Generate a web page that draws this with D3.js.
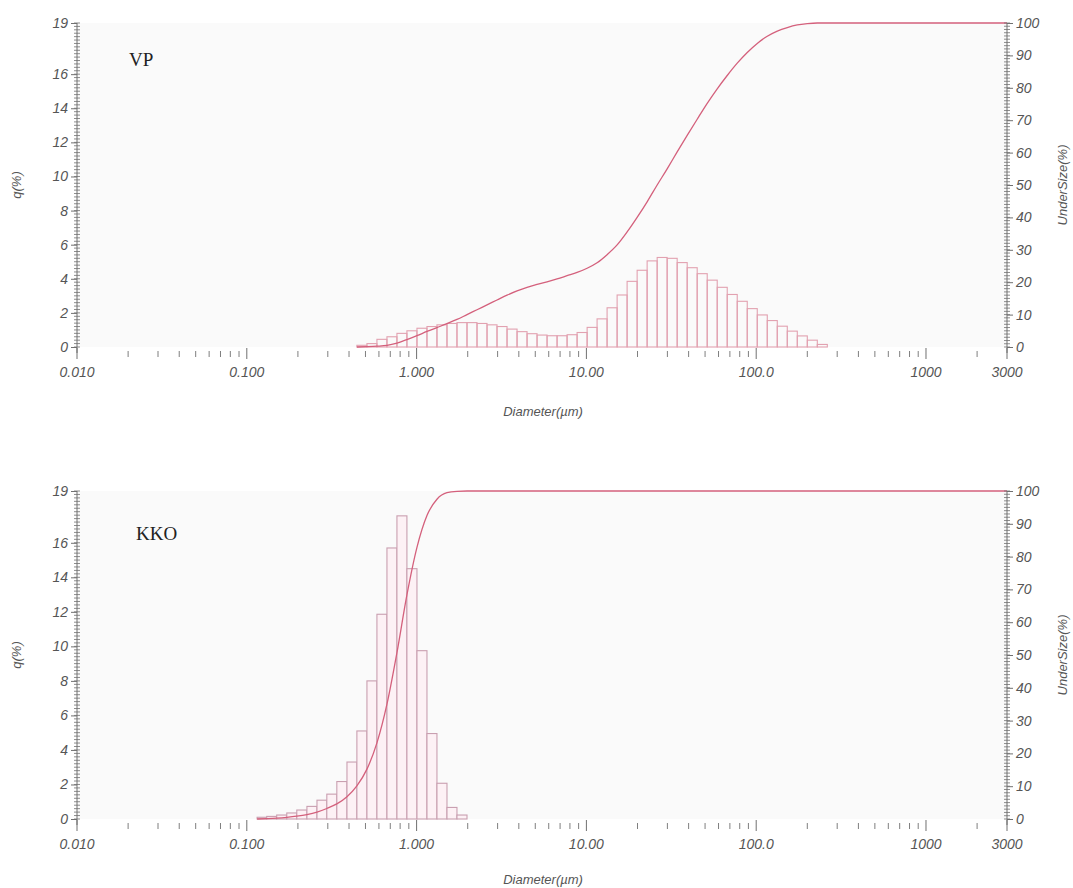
<!DOCTYPE html>
<html>
<head>
<meta charset="utf-8">
<script src="https://cdn.jsdelivr.net/npm/d3@7"></script>
<style>
  body { margin: 0; background: #ffffff; }
</style>
</head>
<body>
<svg id="chart" width="1073" height="888"></svg>
<script>
// Laser-diffraction channel diameters (µm), 93 channels from 0.011 to 3000
const channelDiameters = [
  0.011, 0.013, 0.015, 0.017, 0.020, 0.023, 0.026, 0.030, 0.034, 0.039,
  0.044, 0.051, 0.058, 0.067, 0.076, 0.087, 0.100, 0.115, 0.131, 0.150,
  0.172, 0.197, 0.226, 0.259, 0.296, 0.339, 0.389, 0.445, 0.510, 0.584,
  0.669, 0.766, 0.877, 1.005, 1.151, 1.318, 1.510, 1.729, 1.981, 2.269,
  2.599, 2.976, 3.409, 3.905, 4.472, 5.122, 5.867, 6.720, 7.697, 8.816,
  10.10, 11.56, 13.24, 15.17, 17.37, 19.90, 22.79, 26.11, 29.90, 34.25,
  39.23, 44.93, 51.47, 58.95, 67.52, 77.33, 88.58, 101.46, 116.21, 133.10,
  152.45, 174.62, 200.00, 229.08, 262.38, 300.52, 344.21, 394.24, 451.56, 517.20,
  592.39, 678.50, 777.13, 890.10, 1019.5, 1167.7, 1337.5, 1531.9, 1754.6, 2009.7,
  2301.9, 2636.5, 3000
];

// VP sample: frequency q(%) per channel, first channel index vpStart
const vpStart = 27;
const vpQ = [
  0.10, 0.20, 0.45, 0.60, 0.80, 0.95, 1.10, 1.20, 1.30, 1.38,
  1.43, 1.43, 1.38, 1.30, 1.20, 1.05, 0.90, 0.78, 0.70, 0.66,
  0.66, 0.72, 0.85, 1.15, 1.65, 2.30, 3.05, 3.85, 4.50, 5.05,
  5.25, 5.20, 4.95, 4.65, 4.30, 3.92, 3.50, 3.08, 2.68, 2.25,
  1.88, 1.55, 1.22, 0.93, 0.65, 0.40, 0.15
];
// VP undersize (%) at channel diameters, starting at index vpStart
const vpUnderSize = [
  0, 0.1, 0.25, 0.5, 1.2, 2.3, 3.5, 4.8, 6.0, 7.2,
  8.5, 10.0, 11.5, 13.0, 14.5, 16.0, 17.3, 18.4, 19.3, 20.1,
  21.0, 22.0, 23.0, 24.3, 26.0, 28.5, 31.5, 35.5, 40.0, 44.8,
  50.0, 55.0, 60.2, 65.3, 70.3, 75.2, 79.7, 83.8, 87.6, 90.9,
  93.7, 95.9, 97.5, 98.6, 99.4, 99.8, 100, 100
];

// KKO sample
const kkoStart = 17;
const kkoQ = [
  0.10, 0.15, 0.23, 0.35, 0.52, 0.73, 1.09, 1.44, 2.17, 3.30,
  5.10, 8.00, 11.86, 15.70, 17.56, 14.50, 9.75, 4.95, 2.07, 0.67,
  0.23
];
const kkoUnderSize = [
  0, 0.1, 0.25, 0.5, 0.85, 1.35, 2.1, 3.2, 4.6, 6.8,
  10.1, 15.2, 23.2, 35.0, 50.7, 68.3, 82.8, 92.5, 97.5, 99.5,
  99.9, 100
];

const qTicks = [0, 2, 4, 6, 8, 10, 12, 14, 16, 19];
const underTicks = [0, 10, 20, 30, 40, 50, 60, 70, 80, 90, 100];
const xMajorValues = [0.01, 0.1, 1, 10, 100, 1000, 3000];
const xMajorLabels = ["0.010", "0.100", "1.000", "10.00", "100.0", "1000", "3000"];

const panels = [
  { title: "VP", start: vpStart, q: vpQ, under: vpUnderSize, top: 23, bottom: 347,
    titleX: 129, titleY: 66, xTitleY: 416, barStroke: "#e2a1b0", barFill: "none" },
  { title: "KKO", start: kkoStart, q: kkoQ, under: kkoUnderSize, top: 491, bottom: 819,
    titleX: 136, titleY: 540, xTitleY: 884, barStroke: "#c99fb0", barFill: "#fdf1f5" }
];

const sansFont = "'Liberation Sans', Arial, sans-serif";
const serifFont = "'Liberation Serif', 'Times New Roman', serif";
const svg = d3.select("#chart");
const x = d3.scaleLog().domain([0.01, 3000]).range([77, 1007]);
const axisColor = "#707070";
const labelColor = "#555555";
const curveColor = "#d4607c";

panels.forEach(p => {
  const g = svg.append("g");
  const yq = d3.scaleLinear().domain([0, 19]).range([p.bottom, p.top]);
  const yu = d3.scaleLinear().domain([0, 100]).range([p.bottom, p.top]);

  // plot background
  g.append("rect")
    .attr("x", x(0.01)).attr("y", p.top)
    .attr("width", x(3000) - x(0.01)).attr("height", p.bottom - p.top)
    .attr("fill", "#fafafa");

  // histogram bars
  const bars = p.q.map((v, k) => ({
    lo: channelDiameters[p.start + k],
    hi: channelDiameters[p.start + k + 1],
    v
  }));
  g.append("g").selectAll("rect").data(bars).join("rect")
    .attr("x", d => x(d.lo))
    .attr("y", d => yq(d.v))
    .attr("width", d => x(d.hi) - x(d.lo))
    .attr("height", d => yq(0) - yq(d.v))
    .attr("fill", p.barFill)
    .attr("stroke", p.barStroke)
    .attr("stroke-width", 1.1);

  // undersize curve, flat to the end of the range once complete
  const pts = p.under.map((v, k) => [channelDiameters[p.start + k], v]);
  pts.push([3000, 100]);
  const line = d3.line()
    .x(d => x(d[0]))
    .y(d => yu(d[1]))
    .curve(d3.curveMonotoneX);
  g.append("path")
    .attr("d", line(pts))
    .attr("fill", "none")
    .attr("stroke", curveColor)
    .attr("stroke-width", 1.3);

  const styleTickText = a => a.selectAll(".tick text")
    .attr("fill", labelColor).attr("font-size", 14)
    .attr("font-style", "italic")
    .attr("font-family", sansFont);

  // left q(%) axis: minor comb + labelled majors
  const left = g.append("g").attr("transform", `translate(${x(0.01)},0)`);
  left.append("line").attr("y1", p.top).attr("y2", p.bottom + 6)
    .attr("stroke", axisColor).attr("stroke-width", 1);
  left.selectAll("line.minor").data(d3.range(0, 19.01, 0.2)).join("line")
    .attr("class", "minor")
    .attr("x1", -3).attr("x2", 3)
    .attr("y1", d => yq(d)).attr("y2", d => yq(d))
    .attr("stroke", axisColor).attr("stroke-width", 0.8);
  left.call(d3.axisLeft(yq).tickValues(qTicks).tickSize(6).tickFormat(d3.format("d")))
    .call(a => a.select(".domain").remove())
    .call(a => a.selectAll(".tick line").attr("stroke", axisColor))
    .call(styleTickText);

  // right UnderSize(%) axis
  const right = g.append("g").attr("transform", `translate(${x(3000)},0)`);
  right.append("line").attr("y1", p.top).attr("y2", p.bottom + 6)
    .attr("stroke", axisColor).attr("stroke-width", 1);
  right.selectAll("line.minor").data(d3.range(0, 100.1, 1)).join("line")
    .attr("class", "minor")
    .attr("x1", -3).attr("x2", 3)
    .attr("y1", d => yu(d)).attr("y2", d => yu(d))
    .attr("stroke", axisColor).attr("stroke-width", 0.8);
  right.call(d3.axisRight(yu).tickValues(underTicks).tickSize(6).tickFormat(d3.format("d")))
    .call(a => a.select(".domain").remove())
    .call(a => a.selectAll(".tick line").attr("stroke", axisColor))
    .call(styleTickText);

  // diameter axis: short minor ticks at 2..9 of each decade, longer majors
  const minorX = x.ticks().filter(v => !xMajorValues.some(m => Math.abs(m - v) / m < 1e-6));
  g.append("g").selectAll("line").data(minorX).join("line")
    .attr("x1", d => x(d)).attr("x2", d => x(d))
    .attr("y1", p.bottom + 4).attr("y2", p.bottom + 10)
    .attr("stroke", axisColor).attr("stroke-width", 0.9);
  g.append("g").selectAll("line").data(xMajorValues).join("line")
    .attr("x1", d => x(d)).attr("x2", d => x(d))
    .attr("y1", p.bottom + 1).attr("y2", p.bottom + 12)
    .attr("stroke", axisColor).attr("stroke-width", 1);
  g.append("g").selectAll("text").data(xMajorValues).join("text")
    .attr("x", d => x(d)).attr("y", p.bottom + 30)
    .attr("text-anchor", "middle")
    .attr("font-family", sansFont)
    .attr("font-size", 14).attr("font-style", "italic")
    .attr("fill", labelColor)
    .text((d, k) => xMajorLabels[k]);

  // axis titles
  g.append("text")
    .attr("transform", `translate(21,${(p.top + p.bottom) / 2}) rotate(-90)`)
    .attr("text-anchor", "middle")
    .attr("font-family", sansFont)
    .attr("font-size", 13).attr("font-style", "italic").attr("fill", labelColor)
    .text("q(%)");
  g.append("text")
    .attr("transform", `translate(1067,${(p.top + p.bottom) / 2}) rotate(-90)`)
    .attr("text-anchor", "middle")
    .attr("font-family", sansFont)
    .attr("font-size", 13).attr("font-style", "italic").attr("fill", labelColor)
    .text("UnderSize(%)");
  g.append("text")
    .attr("x", 543).attr("y", p.xTitleY)
    .attr("text-anchor", "middle")
    .attr("font-family", sansFont)
    .attr("font-size", 13).attr("font-style", "italic").attr("fill", labelColor)
    .text("Diameter(µm)");

  // sample name
  g.append("text")
    .attr("x", p.titleX).attr("y", p.titleY)
    .attr("font-family", serifFont)
    .attr("font-size", 19).attr("fill", "#222222")
    .text(p.title);
});
</script>
</body>
</html>
